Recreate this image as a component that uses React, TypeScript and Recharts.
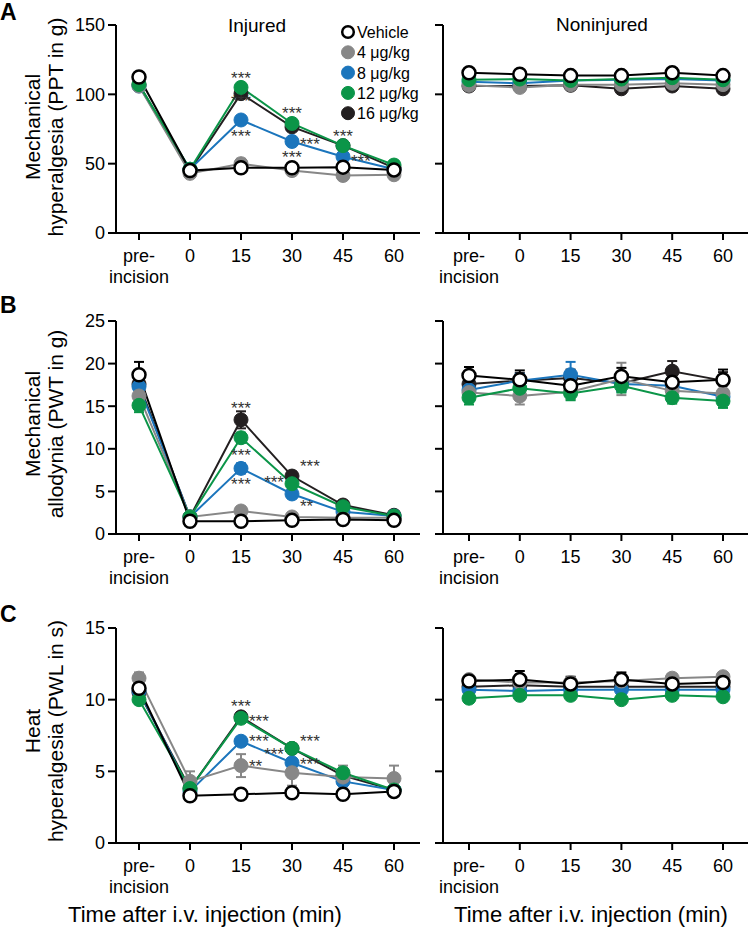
import React from 'react';
import { LineChart, Line, XAxis, YAxis, ReferenceDot } from 'recharts';

const FONT = '"Liberation Sans", Arial, Helvetica, sans-serif';

// x categories (time after i.v. injection, min)
const TIMES = ['pre-\nincision', '0', '15', '30', '45', '60'];
// groups: vehicle + doses
const GROUPS = ['Vehicle', '4 μg/kg', '8 μg/kg', '12 μg/kg', '16 μg/kg'];
const LINE_COLORS = ['#000000', '#878787', '#1b75bc', '#0b9548', '#231f20'];
const DOT_FILLS = ['#ffffff', '#878787', '#1b75bc', '#0b9548', '#231f20'];
// back-to-front drawing order (group index)
const DRAW_ORDER = [4, 2, 1, 3, 0];

// A: mechanical hyperalgesia, PPT in g  (rows follow GROUPS)
const A_INJ_MEAN = [
  [112.5, 45, 47, 47, 47.5, 45.5],
  [106, 43, 50, 45, 41.5, 42],
  [106, 46, 81.5, 66, 55, 46],
  [107, 46, 105, 79, 63, 49],
  [107, 45, 100.5, 76.5, 63, 47],
];
const A_INJ_SEM = [
  [1.5, 1.5, 1.5, 1.5, 1.5, 1.5],
  [2, 1.5, 3.5, 2, 1.5, 1.5],
  [2, 1.5, 2, 2, 2, 1.5],
  [2, 1.5, 2, 2, 2, 1.5],
  [2, 1.5, 2, 2, 2, 1.5],
];
const A_NON_MEAN = [
  [115.5, 114.5, 113.5, 113.5, 115.5, 113.5],
  [106.5, 105, 107, 107, 108, 107],
  [109, 108, 110, 110.5, 111, 110],
  [110.5, 111, 110, 111, 112, 110.5],
  [106, 106, 106.5, 104, 106, 104],
];
const A_NON_SEM = [
  [1.5, 1.5, 1.5, 1.5, 1.5, 1.5],
  [1.5, 1.5, 1.5, 1.5, 1.5, 1.5],
  [1.5, 1.5, 1.5, 1.5, 1.5, 1.5],
  [1.5, 1.5, 1.5, 1.5, 1.5, 1.5],
  [1.5, 1.5, 1.5, 1.5, 1.5, 1.5],
];

// B: mechanical allodynia, PWT in g
const B_INJ_MEAN = [
  [18.7, 1.5, 1.5, 1.6, 1.7, 1.6],
  [16.2, 2.0, 2.7, 2.0, 1.9, 1.9],
  [17.3, 2.0, 7.7, 4.7, 2.6, 2.1],
  [15.1, 2.0, 11.3, 5.9, 3.2, 2.1],
  [17.6, 2.0, 13.4, 6.8, 3.4, 2.2],
];
const B_INJ_SEM = [
  [1.5, 0.2, 0.2, 0.2, 0.2, 0.2],
  [1.0, 0.2, 0.5, 0.3, 0.2, 0.2],
  [1.0, 0.2, 0.6, 0.5, 0.3, 0.2],
  [0.8, 0.2, 0.6, 0.5, 0.3, 0.2],
  [1.2, 0.3, 1.0, 0.5, 0.3, 0.2],
];
const B_NON_MEAN = [
  [18.6, 18.1, 17.4, 18.5, 17.8, 18.1],
  [16.6, 16.2, 16.7, 18.2, 16.8, 16.5],
  [16.9, 18.0, 18.7, 17.6, 17.4, 16.1],
  [16.0, 17.1, 16.5, 17.4, 16.0, 15.6],
  [17.6, 18.0, 18.3, 17.7, 19.1, 18.0],
];
const B_NON_SEM = [
  [1.0, 1.1, 1.0, 1.0, 1.0, 1.2],
  [0.9, 1.0, 0.9, 1.9, 0.9, 0.9],
  [0.9, 0.8, 1.5, 0.9, 0.8, 0.8],
  [0.8, 0.8, 0.8, 0.8, 0.7, 0.8],
  [1.0, 0.9, 1.0, 0.9, 1.2, 1.0],
];

// C: heat hyperalgesia, PWL in s
const C_INJ_MEAN = [
  [10.8, 3.3, 3.4, 3.5, 3.4, 3.6],
  [11.5, 4.3, 5.4, 4.9, 4.6, 4.5],
  [10.6, 3.6, 7.1, 5.6, 4.3, 3.7],
  [10.0, 3.8, 8.7, 6.6, 4.9, 3.7],
  [10.5, 3.8, 8.8, 6.6, 4.7, 3.7],
];
const C_INJ_SEM = [
  [0.4, 0.2, 0.2, 0.2, 0.2, 0.2],
  [0.4, 0.7, 0.8, 0.9, 0.8, 0.9],
  [0.3, 0.3, 0.3, 0.3, 0.3, 0.2],
  [0.3, 0.3, 0.3, 0.3, 0.3, 0.2],
  [0.5, 0.3, 0.3, 0.3, 0.3, 0.2],
];
const C_NON_MEAN = [
  [11.3, 11.4, 11.1, 11.4, 11.1, 11.2],
  [11.4, 11.2, 11.2, 11.3, 11.5, 11.6],
  [10.7, 10.6, 10.7, 10.7, 10.7, 10.7],
  [10.1, 10.3, 10.3, 10.0, 10.3, 10.2],
  [10.9, 11.0, 10.9, 10.9, 10.9, 10.9],
];
const C_NON_SEM = [
  [0.4, 0.6, 0.5, 0.5, 0.4, 0.6],
  [0.3, 0.3, 0.3, 0.3, 0.3, 0.3],
  [0.2, 0.2, 0.2, 0.2, 0.2, 0.2],
  [0.2, 0.2, 0.2, 0.2, 0.2, 0.2],
  [0.4, 0.5, 0.4, 0.5, 0.4, 0.4],
];

const A_TICKS = [0, 50, 100, 150];
const B_TICKS = [0, 5, 10, 15, 20, 25];
const C_TICKS = [0, 5, 10, 15];

// significance marks: t = category, y = data value where the mark sits
type Note = { t: string; y: number; text: string; side: 'c' | 'l' | 'r' };
const A_NOTES: Note[] = [
  { t: '15', y: 114, text: '***', side: 'c' },
  { t: '15', y: 97, text: '***', side: 'c' },
  { t: '15', y: 72, text: '***', side: 'c' },
  { t: '30', y: 89, text: '***', side: 'c' },
  { t: '30', y: 66, text: '***', side: 'r' },
  { t: '30', y: 57, text: '***', side: 'c' },
  { t: '45', y: 72, text: '***', side: 'c' },
  { t: '45', y: 54, text: '***', side: 'r' },
];
const B_NOTES: Note[] = [
  { t: '15', y: 15.1, text: '***', side: 'c' },
  { t: '15', y: 9.6, text: '***', side: 'c' },
  { t: '15', y: 6.2, text: '***', side: 'c' },
  { t: '30', y: 8.3, text: '***', side: 'r' },
  { t: '30', y: 6.5, text: '***', side: 'l' },
  { t: '30', y: 3.6, text: '**', side: 'r' },
];
const C_NOTES: Note[] = [
  { t: '15', y: 9.8, text: '***', side: 'c' },
  { t: '15', y: 8.7, text: '***', side: 'r' },
  { t: '15', y: 7.3, text: '***', side: 'r' },
  { t: '15', y: 5.6, text: '**', side: 'r' },
  { t: '30', y: 7.3, text: '***', side: 'r' },
  { t: '30', y: 6.4, text: '***', side: 'l' },
  { t: '30', y: 5.7, text: '***', side: 'r' },
];

const X_AXIS_H = 55;

function buildRows(means: number[][], sems: number[][]) {
  return TIMES.map((t, i) => {
    const row: Record<string, string | number> = { t };
    means.forEach((s, g) => {
      row[`m${g}`] = s[i];
      row[`e${g}`] = sems[g][i];
    });
    return row;
  });
}

function TimeTick({ x, y, payload }: any) {
  const lines = String(payload.value).split('\n');
  return (
    <text x={x} y={y} textAnchor="middle" fontSize={18} fill="#000" fontFamily={FONT}>
      {lines.map((l, i) => (
        <tspan key={i} x={x} dy={i === 0 ? 18 : 21}>
          {l}
        </tspan>
      ))}
    </text>
  );
}

function NoteMark({ cx, cy, text, side }: any) {
  const x = side === 'r' ? cx + 8 : side === 'l' ? cx - 8 : cx;
  const anchor = side === 'r' ? 'start' : side === 'l' ? 'end' : 'middle';
  return (
    <text x={x} y={cy + 9} textAnchor={anchor} fontSize={17} fill="#333" fontFamily={FONT}>
      {text}
    </text>
  );
}

// SEM whisker drawn as the "dot" of an invisible line, so it stays under the symbols
function semWhisker(g: number, pxPerUnit: number) {
  return (p: any) => {
    const { cx, cy, payload, index } = p;
    if (cx == null || cy == null) return <g key={`w${g}-${index}`} />;
    const h = Number(payload[`e${g}`]) * pxPerUnit;
    const c = LINE_COLORS[g];
    return (
      <g key={`w${g}-${index}`} stroke={c} strokeWidth={2}>
        <line x1={cx} x2={cx} y1={cy - h} y2={cy + h} />
        <line x1={cx - 5} x2={cx + 5} y1={cy - h} y2={cy - h} />
        <line x1={cx - 5} x2={cx + 5} y1={cy + h} y2={cy + h} />
      </g>
    );
  };
}

interface PanelProps {
  means: number[][];
  sems: number[][];
  ticks: number[];
  notes?: Note[];
  left: boolean;
  top: number;
  height: number;
  marginTop: number;
  marginBottom: number;
}

function Panel({ means, sems, ticks, notes = [], left, top, height, marginTop, marginBottom }: PanelProps) {
  const rows = buildRows(means, sems);
  const width = left ? 430 : 320;
  const yWidth = left ? 40 : 10;
  const margin = left
    ? { top: marginTop, right: 10, left: 76, bottom: marginBottom }
    : { top: marginTop, right: 2, left: 3, bottom: marginBottom };
  const yMax = ticks[ticks.length - 1];
  const pxPerUnit = (height - marginTop - marginBottom - X_AXIS_H) / yMax;
  const axis = { stroke: '#000', strokeWidth: 2 };
  return (
    <div style={{ position: 'absolute', left: left ? 0 : 430, top }}>
      <LineChart width={width} height={height} data={rows} margin={margin}>
        <XAxis
          dataKey="t"
          type="category"
          interval={0}
          padding={left ? { left: 23, right: 26 } : { left: 26, right: 25 }}
          axisLine={axis}
          tickLine={axis}
          tickSize={7}
          tickMargin={4}
          height={X_AXIS_H}
          tick={<TimeTick />}
        />
        <YAxis
          type="number"
          domain={[0, yMax]}
          ticks={ticks}
          interval={0}
          width={yWidth}
          axisLine={axis}
          tickLine={axis}
          tickSize={8}
          tickMargin={3}
          tick={left ? { fontSize: 18, fill: '#000', fontFamily: FONT } : () => <g />}
        />
        {DRAW_ORDER.map((g) => (
          <Line
            key={`sem-${g}`}
            dataKey={`m${g}`}
            stroke="none"
            dot={semWhisker(g, pxPerUnit)}
            activeDot={false}
            legendType="none"
            isAnimationActive={false}
          />
        ))}
        {DRAW_ORDER.map((g) => (
          <Line
            key={GROUPS[g]}
            name={GROUPS[g]}
            dataKey={`m${g}`}
            type="linear"
            stroke={LINE_COLORS[g]}
            strokeWidth={2}
            isAnimationActive={false}
            dot={
              g === 0
                ? { r: 6.5, fill: '#fff', stroke: '#000', strokeWidth: 2.5 }
                : { r: 7, fill: DOT_FILLS[g], stroke: DOT_FILLS[g], strokeWidth: 1 }
            }
            activeDot={false}
          />
        ))}
        {notes.map((n, i) => (
          <ReferenceDot
            key={i}
            x={n.t}
            y={n.y}
            r={0}
            ifOverflow="visible"
            shape={(p: any) => <NoteMark cx={p.cx} cy={p.cy} text={n.text} side={n.side} />}
          />
        ))}
      </LineChart>
    </div>
  );
}

function Overlay() {
  const t = { fontFamily: FONT, fill: '#000' };
  const yLabel = (x1: number, x2: number, cy: number, l1: string, l2: string) => (
    <g>
      <text {...t} fontSize={21} textAnchor="middle" transform={`translate(${x1},${cy}) rotate(-90)`}>
        {l1}
      </text>
      <text {...t} fontSize={21} textAnchor="middle" transform={`translate(${x2},${cy}) rotate(-90)`}>
        {l2}
      </text>
    </g>
  );
  return (
    <svg width={750} height={930} style={{ position: 'absolute', left: 0, top: 0, pointerEvents: 'none' }}>
      <text {...t} x={0} y={20} fontSize={23} fontWeight="bold">A</text>
      <text {...t} x={0} y={313} fontSize={23} fontWeight="bold">B</text>
      <text {...t} x={0} y={622} fontSize={23} fontWeight="bold">C</text>

      <text {...t} x={257} y={32} fontSize={19} textAnchor="middle">Injured</text>
      <text {...t} x={602} y={31} fontSize={19} textAnchor="middle">Noninjured</text>

      {yLabel(40, 63, 127, 'Mechanical', 'hyperalgesia (PPT in g)')}
      {yLabel(40, 63, 424, 'Mechanical', 'allodynia (PWT in g)')}
      {yLabel(40, 63, 731, 'Heat', 'hyperalgesia (PWL in s)')}

      <text {...t} x={205} y={922} fontSize={22} textAnchor="middle">Time after i.v. injection (min)</text>
      <text {...t} x={591} y={922} fontSize={22} textAnchor="middle">Time after i.v. injection (min)</text>

      {GROUPS.map((g, i) => {
        const y = 32 + i * 20.3;
        return (
          <g key={g}>
            <circle
              cx={348}
              cy={y}
              r={i === 0 ? 5.8 : 6.5}
              fill={DOT_FILLS[i]}
              stroke={i === 0 ? '#000' : DOT_FILLS[i]}
              strokeWidth={i === 0 ? 2.5 : 1}
            />
            <text {...t} x={357} y={y + 6} fontSize={16}>{g}</text>
          </g>
        );
      })}
    </svg>
  );
}

export default function App() {
  return (
    <div style={{ position: 'absolute', left: 0, top: 0, width: 750, height: 930, background: '#fff', fontFamily: FONT }}>
      <Panel means={A_INJ_MEAN} sems={A_INJ_SEM} ticks={A_TICKS} notes={A_NOTES} left top={0} height={295} marginTop={25} marginBottom={7} />
      <Panel means={A_NON_MEAN} sems={A_NON_SEM} ticks={A_TICKS} left={false} top={0} height={295} marginTop={25} marginBottom={7} />
      <Panel means={B_INJ_MEAN} sems={B_INJ_SEM} ticks={B_TICKS} notes={B_NOTES} left top={290} height={300} marginTop={31} marginBottom={1} />
      <Panel means={B_NON_MEAN} sems={B_NON_SEM} ticks={B_TICKS} left={false} top={290} height={300} marginTop={31} marginBottom={1} />
      <Panel means={C_INJ_MEAN} sems={C_INJ_SEM} ticks={C_TICKS} notes={C_NOTES} left top={590} height={340} marginTop={38} marginBottom={32} />
      <Panel means={C_NON_MEAN} sems={C_NON_SEM} ticks={C_TICKS} left={false} top={590} height={340} marginTop={38} marginBottom={32} />
      <Overlay />
    </div>
  );
}
